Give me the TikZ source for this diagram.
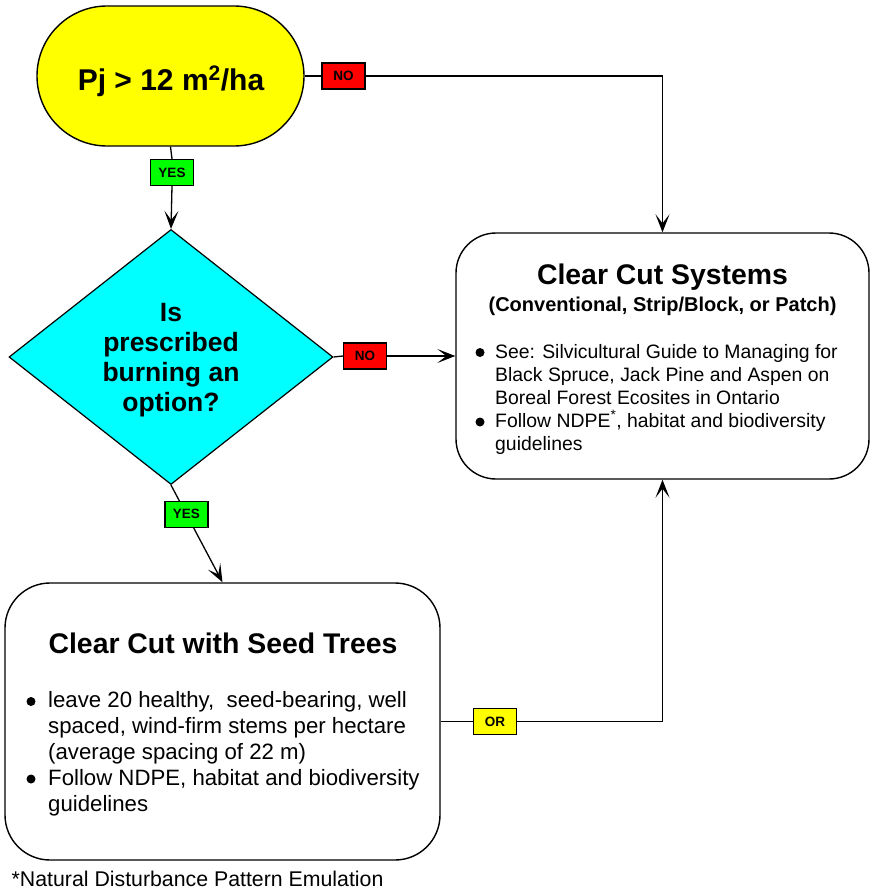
\documentclass[tikz,border=0pt]{standalone}
\usepackage{fontspec}
\setmainfont{Liberation Sans}
\usetikzlibrary{shapes.geometric,arrows.meta}
\definecolor{cyanfill}{HTML}{00FFFF}
\definecolor{yel}{HTML}{FFFF00}
\definecolor{redlbl}{HTML}{FF0000}
\definecolor{greenlbl}{HTML}{00FF00}
\tikzset{
  conn/.style={line width=1.3pt},
  arr/.style={conn,-{Stealth[length=18pt,width=14pt,inset=9pt]}},
  lbl/.style={draw, line width=1.2pt, minimum width=43pt, minimum height=26pt,
    inner sep=0pt, font=\fontsize{13.5}{15}\selectfont\bfseries},
  panel/.style={draw, line width=1.4pt, fill=white, inner sep=0pt},
  ttl/.style={anchor=base, inner sep=0pt, font=\fontsize{28.4}{34}\selectfont\bfseries},
  sub/.style={anchor=base, inner sep=0pt, font=\fontsize{20}{24}\selectfont\bfseries},
  qtxt/.style={anchor=base, inner sep=0pt, font=\fontsize{26.5}{30}\selectfont\bfseries},
  ltxt/.style={anchor=base west, inner sep=0pt, font=\fontsize{19.4}{23}\selectfont},
  stxt/.style={anchor=base west, inner sep=0pt, font=\fontsize{22.2}{26}\selectfont},
  bul/.style={circle, fill=black, inner sep=0pt, minimum size=9pt},
}
\begin{document}
\begin{tikzpicture}[x=1pt,y=-1pt]
\useasboundingbox (0,0) rectangle (874,891);

% decision: stand density
\node[draw, fill=yel, line width=1.4pt, rounded corners=70pt,
      minimum width=267pt, minimum height=140pt, inner sep=0pt] (pj) at (170.5,76) {};
\node[anchor=base, inner sep=0pt, font=\fontsize{30}{36}\selectfont\bfseries]
      (pjt) at (171,90) {Pj > 12 m\textsuperscript{2}/ha};

% decision: prescribed burning
\node[diamond, draw, fill=cyanfill, line width=1.2pt, inner sep=0pt,
      minimum width=324pt, minimum height=255pt] (dia) at (171,357) {};
\node[qtxt] (q1) at (171,321.5) {Is};
\node[qtxt] (q2) at (171,351.5) {prescribed};
\node[qtxt] (q3) at (171,381.5) {burning an};
\node[qtxt] (q4) at (171,411.5) {option?};

% outcome: clear cut systems
\node[panel, rounded corners=40pt, minimum width=413pt, minimum height=246pt] (ccs) at (662.5,356) {};
\node[ttl] (ccst) at (662.5,284) {Clear Cut Systems};
\node[sub] (ccss) at (662.5,311.5) {(Conventional, Strip/Block, or Patch)};
\node[bul] (cb1) at (480,352.5) {};
\node[ltxt] (c1) at (495,358.5) {See: Silvicultural Guide to Managing for};
\node[ltxt] (c2) at (495,381) {Black Spruce, Jack Pine and Aspen on};
\node[ltxt] (c3) at (495,404) {Boreal Forest Ecosites in Ontario};
\node[bul] (cb2) at (480,422) {};
\node[ltxt] (c4) at (495,427.5) {Follow NDPE\smash{\textsuperscript{*}}, habitat and biodiversity};
\node[ltxt] (c5) at (495,450) {guidelines};

% outcome: clear cut with seed trees
\node[panel, rounded corners=45pt, minimum width=435pt, minimum height=277pt] (seed) at (222.5,721.5) {};
\node[ttl] (seedt) at (223,653) {Clear Cut with Seed Trees};
\node[bul] (sb1) at (31,701.5) {};
\node[stxt] (s1) at (48,707) {leave 20 healthy,\ \ seed-bearing, well};
\node[stxt] (s2) at (48,733) {spaced, wind-firm stems per hectare};
\node[stxt] (s3) at (48,759) {(average spacing of 22 m)};
\node[bul] (sb2) at (31,779) {};
\node[stxt] (s4) at (48,785) {Follow NDPE, habitat and biodiversity};
\node[stxt] (s5) at (48,811) {guidelines};

% footnote
\node[anchor=base west, inner sep=0pt, font=\fontsize{21.3}{24}\selectfont] (fn) at (11.5,886.5)
      {*Natural Disturbance Pattern Emulation};

% connectors with their labels
\node[lbl, fill=redlbl] (no1) at (343.5,76) {NO};
\node[lbl, fill=greenlbl] (yes1) at (172,172.5) {YES};
\node[lbl, fill=redlbl] (no2) at (365,356) {NO};
\node[lbl, fill=yel] (orl) at (495,721.5) {OR};

\draw[conn] (pj.east) -- (no1.west);
\draw[arr] (no1.east) -| (ccs.north);

\draw[conn] (pj.south) -- (yes1.north);
\draw[arr] (yes1.south) -- (dia.north);

\draw[conn] (dia.east) -- (no2.west);
\draw[arr] (no2.east) -- (ccs.west);

\draw[arr] (dia.south) -- (seed.north)
  node[lbl, fill=greenlbl, pos=0.3] (yes2) {YES};

\draw[conn] (seed.east) -- (orl.west);
\draw[arr] (orl.east) -| (ccs.south);
\end{tikzpicture}
\end{document}
